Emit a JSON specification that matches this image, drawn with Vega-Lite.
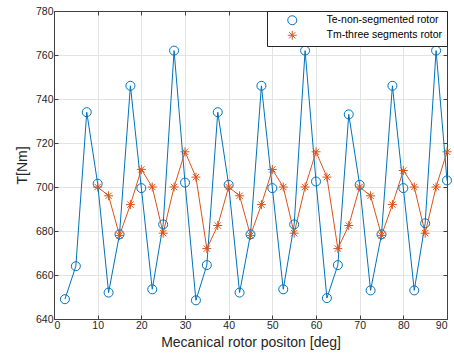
{
  "$schema": "https://vega.github.io/schema/vega-lite/v6.json",
  "width": 393,
  "height": 308,
  "autosize": {"type": "none"},
  "padding": {"left": 54, "top": 11, "right": 7, "bottom": 41},
  "background": "white",
  "config": {
    "font": "Liberation Sans",
    "view": {"stroke": "#404040", "strokeWidth": 1},
    "axis": {
      "domainColor": "#404040",
      "tickColor": "#404040",
      "gridColor": "#e3e3e3",
      "labelColor": "#262626",
      "titleColor": "#262626",
      "labelFont": "Liberation Sans",
      "titleFont": "Liberation Sans",
      "labelFontSize": 10.5,
      "titleFontSize": 14,
      "titleFontWeight": "normal",
      "tickSize": -4,
      "labelPadding": 5
    },
    "legend": {"labelFont": "Liberation Sans"}
  },
  "data": {
    "values": [
      {"x": 2.5, "T": 649, "s": "Te-non-segmented rotor"},
      {"x": 5, "T": 664, "s": "Te-non-segmented rotor"},
      {"x": 7.5, "T": 734, "s": "Te-non-segmented rotor"},
      {"x": 10, "T": 701.5, "s": "Te-non-segmented rotor"},
      {"x": 12.5, "T": 652, "s": "Te-non-segmented rotor"},
      {"x": 15, "T": 678.5, "s": "Te-non-segmented rotor"},
      {"x": 17.5, "T": 746, "s": "Te-non-segmented rotor"},
      {"x": 20, "T": 699.5, "s": "Te-non-segmented rotor"},
      {"x": 22.5, "T": 653.5, "s": "Te-non-segmented rotor"},
      {"x": 25, "T": 683, "s": "Te-non-segmented rotor"},
      {"x": 27.5, "T": 762, "s": "Te-non-segmented rotor"},
      {"x": 30, "T": 702, "s": "Te-non-segmented rotor"},
      {"x": 32.5, "T": 648.5, "s": "Te-non-segmented rotor"},
      {"x": 35, "T": 664.5, "s": "Te-non-segmented rotor"},
      {"x": 37.5, "T": 734, "s": "Te-non-segmented rotor"},
      {"x": 40, "T": 701, "s": "Te-non-segmented rotor"},
      {"x": 42.5, "T": 652, "s": "Te-non-segmented rotor"},
      {"x": 45, "T": 678.5, "s": "Te-non-segmented rotor"},
      {"x": 47.5, "T": 746, "s": "Te-non-segmented rotor"},
      {"x": 50, "T": 699.5, "s": "Te-non-segmented rotor"},
      {"x": 52.5, "T": 653.5, "s": "Te-non-segmented rotor"},
      {"x": 55, "T": 683, "s": "Te-non-segmented rotor"},
      {"x": 57.5, "T": 762, "s": "Te-non-segmented rotor"},
      {"x": 60, "T": 702.5, "s": "Te-non-segmented rotor"},
      {"x": 62.5, "T": 649.5, "s": "Te-non-segmented rotor"},
      {"x": 65, "T": 664.5, "s": "Te-non-segmented rotor"},
      {"x": 67.5, "T": 733, "s": "Te-non-segmented rotor"},
      {"x": 70, "T": 701, "s": "Te-non-segmented rotor"},
      {"x": 72.5, "T": 653, "s": "Te-non-segmented rotor"},
      {"x": 75, "T": 678.5, "s": "Te-non-segmented rotor"},
      {"x": 77.5, "T": 746, "s": "Te-non-segmented rotor"},
      {"x": 80, "T": 699.5, "s": "Te-non-segmented rotor"},
      {"x": 82.5, "T": 653, "s": "Te-non-segmented rotor"},
      {"x": 85, "T": 683.5, "s": "Te-non-segmented rotor"},
      {"x": 87.5, "T": 762, "s": "Te-non-segmented rotor"},
      {"x": 90, "T": 703, "s": "Te-non-segmented rotor"},
      {"x": 10, "T": 700, "s": "Tm-three segments rotor"},
      {"x": 12.5, "T": 696, "s": "Tm-three segments rotor"},
      {"x": 15, "T": 678, "s": "Tm-three segments rotor"},
      {"x": 17.5, "T": 692, "s": "Tm-three segments rotor"},
      {"x": 20, "T": 708, "s": "Tm-three segments rotor"},
      {"x": 22.5, "T": 700, "s": "Tm-three segments rotor"},
      {"x": 25, "T": 679, "s": "Tm-three segments rotor"},
      {"x": 27.5, "T": 700, "s": "Tm-three segments rotor"},
      {"x": 30, "T": 716, "s": "Tm-three segments rotor"},
      {"x": 32.5, "T": 704.5, "s": "Tm-three segments rotor"},
      {"x": 35, "T": 672, "s": "Tm-three segments rotor"},
      {"x": 37.5, "T": 682.5, "s": "Tm-three segments rotor"},
      {"x": 40, "T": 700, "s": "Tm-three segments rotor"},
      {"x": 42.5, "T": 696, "s": "Tm-three segments rotor"},
      {"x": 45, "T": 678, "s": "Tm-three segments rotor"},
      {"x": 47.5, "T": 692, "s": "Tm-three segments rotor"},
      {"x": 50, "T": 708, "s": "Tm-three segments rotor"},
      {"x": 52.5, "T": 700, "s": "Tm-three segments rotor"},
      {"x": 55, "T": 679, "s": "Tm-three segments rotor"},
      {"x": 57.5, "T": 700, "s": "Tm-three segments rotor"},
      {"x": 60, "T": 716, "s": "Tm-three segments rotor"},
      {"x": 62.5, "T": 704.5, "s": "Tm-three segments rotor"},
      {"x": 65, "T": 672, "s": "Tm-three segments rotor"},
      {"x": 67.5, "T": 682.5, "s": "Tm-three segments rotor"},
      {"x": 70, "T": 700, "s": "Tm-three segments rotor"},
      {"x": 72.5, "T": 696, "s": "Tm-three segments rotor"},
      {"x": 75, "T": 678, "s": "Tm-three segments rotor"},
      {"x": 77.5, "T": 692, "s": "Tm-three segments rotor"},
      {"x": 80, "T": 707.5, "s": "Tm-three segments rotor"},
      {"x": 82.5, "T": 700, "s": "Tm-three segments rotor"},
      {"x": 85, "T": 679, "s": "Tm-three segments rotor"},
      {"x": 87.5, "T": 700, "s": "Tm-three segments rotor"},
      {"x": 90, "T": 716, "s": "Tm-three segments rotor"}
    ]
  },
  "resolve": {"axis": {"x": "independent", "y": "independent"}},
  "layer": [
    {
      "mark": {"type": "line", "strokeWidth": 1},
      "encoding": {
        "x": {"field": "x", "type": "quantitative", "scale": {"domain": [0, 90], "nice": false},
              "axis": {"title": "Mecanical rotor positon [deg]", "values": [0,10,20,30,40,50,60,70,80,90], "titlePadding": 5}},
        "y": {"field": "T", "type": "quantitative", "scale": {"domain": [640, 780], "nice": false, "zero": false},
              "axis": {"title": "T[Nm]", "values": [640,660,680,700,720,740,760,780], "titlePadding": 6}},
        "color": {"field": "s", "type": "nominal", "scale": {"domain": ["Te-non-segmented rotor", "Tm-three segments rotor"], "range": ["#0072BD", "#D95319"]}}
      }
    },
    {
      "mark": {"type": "point", "filled": false, "size": 81, "strokeWidth": 1, "opacity": 1},
      "encoding": {
        "x": {"field": "x", "type": "quantitative", "axis": null},
        "y": {"field": "T", "type": "quantitative", "axis": null},
        "color": {"field": "s", "type": "nominal",
          "legend": {
            "title": null,
            "orient": "top-right",
            "offset": 0,
            "padding": 4,
            "strokeColor": "#262626",
            "fillColor": "white",
            "labelFontSize": 10.5,
            "labelColor": "#000000",
            "symbolSize": 81,
            "symbolOffset": 16,
            "labelOffset": 29,
            "symbolStrokeWidth": 1,
            "rowPadding": 1
          }
        },
        "shape": {"field": "s", "type": "nominal", "legend": null, "scale": {"domain": ["Te-non-segmented rotor", "Tm-three segments rotor"], "range": ["circle", "M0,-1L0,1M-1,0L1,0M-0.7,-0.7L0.7,0.7M-0.7,0.7L0.7,-0.7"]}}
      }
    },
    {
      "mark": {"type": "point", "opacity": 0},
      "encoding": {
        "x": {"field": "x", "type": "quantitative", "axis": {"orient": "top", "labels": false, "title": null, "grid": false, "values": [0,10,20,30,40,50,60,70,80,90]}},
        "y": {"field": "T", "type": "quantitative", "axis": {"orient": "right", "labels": false, "title": null, "grid": false, "values": [640,660,680,700,720,740,760,780]}}
      }
    }
  ]
}
